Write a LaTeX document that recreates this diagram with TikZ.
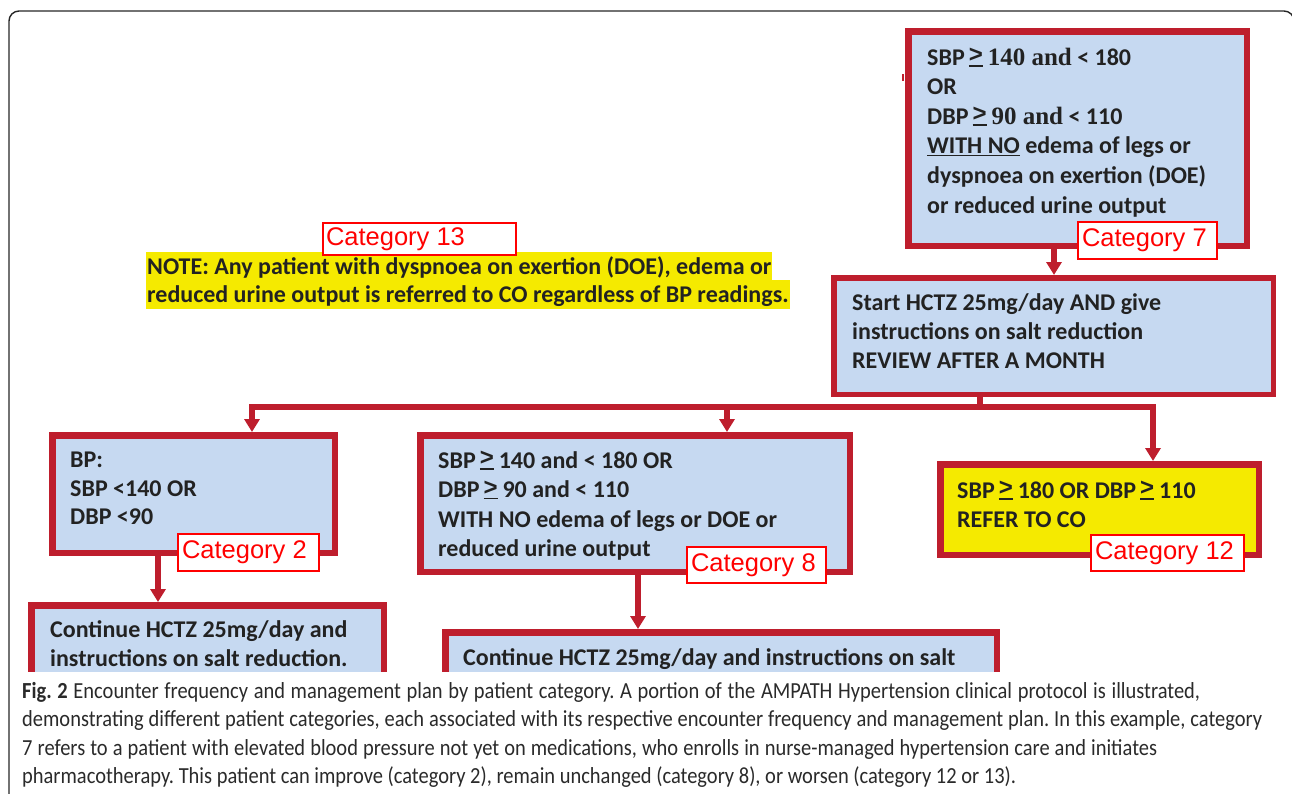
\documentclass[tikz,border=0pt]{standalone}
\usepackage{fontspec}
\setmainfont{Carlito}
\newfontfamily\catfont{Liberation Sans}
\newfontfamily\serifb{Liberation Serif}
\newfontfamily\capfont[FakeStretch=0.89]{Carlito}
\usetikzlibrary{arrows.meta}
\frenchspacing
\definecolor{bred}{HTML}{BE1E2D}
\definecolor{bfill}{HTML}{C6D9F1}
\definecolor{yfill}{HTML}{F5EA00}
\definecolor{lred}{HTML}{FF0000}
\definecolor{txt}{HTML}{222222}
\definecolor{captxt}{HTML}{2A2A2A}
\newcommand\gebar{\hspace{4pt}\mbox{\rlap{\raisebox{2.5pt}{\catfont\fontsize{24}{24}\selectfont >}}\rule[-1.8pt]{14pt}{1.7pt}}\hspace{5pt}}
\tikzset{
  box/.style={draw=bred, line width=6.5pt, fill=bfill, inner sep=0pt},
  ybox/.style={box, fill=yfill},
  btext/.style={anchor=base west, inner sep=0pt, font=\fontsize{24}{29}\selectfont\bfseries, text=txt},
  hltext/.style={btext, fill=yfill, inner xsep=1pt, inner ysep=0pt, text height=22pt, text depth=6.5pt},
  catlabel/.style={draw=lred, line width=2pt, fill=white, inner xsep=4pt, inner ysep=0pt, text=lred, font=\catfont\fontsize{25.5}{28}\selectfont},
  conn/.style={draw=bred, line width=5.5pt},
  arrowc/.style={conn, -{Triangle[width=15pt,length=13pt]}},
  captext/.style={anchor=base west, inner sep=0pt, font=\capfont\fontsize{23}{28}\selectfont, text=captxt},
}
\begin{document}
\begin{tikzpicture}[x=1pt,y=-1pt]
\useasboundingbox (0,0) rectangle (1292,793);
% outer frame
\draw[line width=1.4pt, black!85, rounded corners=10pt] (9,800) -- (9,11) -- (1294,11) -- (1294,800);

% note (category 13)
\node[hltext] (n1) at (146,274) {NOTE: Any patient with dyspnoea on exertion (DOE), edema or};
\node[hltext] (n2) at (146,302) {reduced urine output is referred to CO regardless of BP readings.};

% boxes
\node[box, minimum width=338.5pt, minimum height=214.5pt] (b7) at (1077.5,138.5) {};
\node[box, line width=5.5pt, minimum width=439.5pt, minimum height=116.5pt] (start) at (1053.5,336) {};
\node[box, minimum width=282.5pt, minimum height=117.5pt] (c2) at (193.5,494) {};
\node[box, minimum width=429.5pt, minimum height=136.5pt] (c8) at (635,503.5) {};
\node[ybox, minimum width=318.5pt, minimum height=90.5pt] (c12) at (1099.5,509.5) {};
\begin{scope}
  \clip (0,0) rectangle (1292,671);
  \node[box, minimum width=352.5pt, minimum height=120pt] (cont2) at (207.5,665.25) {};
  \node[box, minimum width=551.5pt, minimum height=120pt] (cont8) at (721,692.25) {};
  \node[btext] (tc2a) at (50,637) {Continue HCTZ 25mg/day and};
  \node[btext] (tc2b) at (50,666) {instructions on salt reduction.};
  \node[btext] (tc8a) at (463,665) {Continue HCTZ 25mg/day and instructions on salt};
\end{scope}
\draw[bred, line width=2pt] (902.5,74) -- (902.5,81);

% box texts
\node[btext] (t7a) at (927,65) {SBP\gebar{\serifb\fontsize{25}{29}\selectfont 140 and} < 180};
\node[btext] (t7b) at (927,94.6) {OR};
\node[btext] (t7c) at (927,124.2) {DBP\gebar{\serifb\fontsize{25}{29}\selectfont 90 and} < 110};
\node[btext] (t7d) at (927,153.8) {\underline{WITH NO} edema of legs or};
\node[btext] (t7e) at (927,183.4) {dyspnoea on exertion (DOE)};
\node[btext] (t7f) at (927,213) {or reduced urine output};

\node[btext] (tsa) at (852,310.7) {Start HCTZ 25mg/day AND give};
\node[btext] (tsb) at (852,339.5) {instructions on salt reduction};
\node[btext] (tsc) at (852,368.3) {REVIEW AFTER A MONTH};

\node[btext] (t2a) at (70,467) {BP:};
\node[btext] (t2b) at (70,496) {SBP <140 OR};
\node[btext] (t2c) at (70,524.5) {DBP <90};

\node[btext] (t8a) at (438,468) {SBP\gebar 140 and < 180 OR};
\node[btext] (t8b) at (438,497.6) {DBP\gebar 90 and < 110};
\node[btext] (t8c) at (438,527.2) {WITH NO edema of legs or DOE or};
\node[btext] (t8d) at (438,556.8) {reduced urine output};

\node[btext] (t12a) at (957,498) {SBP\gebar 180 OR DBP\gebar 110};
\node[btext] (t12b) at (957,527) {REFER TO CO};

% connectors
\coordinate (j) at (980,407);
\coordinate (jl) at (252,407);
\coordinate (jm) at (727,407);
\coordinate (jr) at (1153,407);
\coordinate (a7) at (1054,0);
\coordinate (a2) at (158,0);
\coordinate (a8) at (638,0);
\draw[arrowc] (b7.south -| a7) -- (start.north -| a7);
\draw[conn] (start.south -| j) -- (j);
\draw[arrowc] (j) -| (c2.north -| jl);
\draw[arrowc] (j) -| (c12.north -| jr);
\draw[arrowc] (jm) -- (c8.north -| jm);
\draw[arrowc] (c2.south -| a2) -- (cont2.north -| a2);
\draw[arrowc] (c8.south -| a8) -- (cont8.north -| a8);

% category labels
\node[catlabel, minimum height=37pt] (l7) at (1147.5,240.5) {\makebox[131pt][l]{Category 7}};
\node[catlabel, minimum height=32pt, inner xsep=3pt] (l13) at (419.5,239) {\makebox[187pt][l]{Category 13}};
\node[catlabel, minimum height=37pt] (l2) at (248.5,552.5) {\makebox[133pt][l]{Category 2}};
\node[catlabel, minimum height=36pt] (l8) at (756.5,565) {\makebox[131pt][l]{Category 8}};
\node[catlabel, minimum height=36pt] (l12) at (1167.5,553) {\makebox[145pt][l]{Category 12}};

% caption
\node[captext] (cap1) at (22,698) {\makebox[1178pt][s]{\textbf{Fig. 2} Encounter frequency and management plan by patient category. A portion of the AMPATH Hypertension clinical protocol is illustrated,}};
\node[captext] (cap2) at (22,726.5) {\makebox[1240pt][s]{demonstrating different patient categories, each associated with its respective encounter frequency and management plan. In this example, category}};
\node[captext] (cap3) at (22,755) {\makebox[1135pt][s]{7 refers to a patient with elevated blood pressure not yet on medications, who enrolls in nurse-managed hypertension care and initiates}};
\node[captext] (cap4) at (22,783.5) {pharmacotherapy. This patient can improve (category 2), remain unchanged (category 8), or worsen (category 12 or 13).};
\end{tikzpicture}
\end{document}
